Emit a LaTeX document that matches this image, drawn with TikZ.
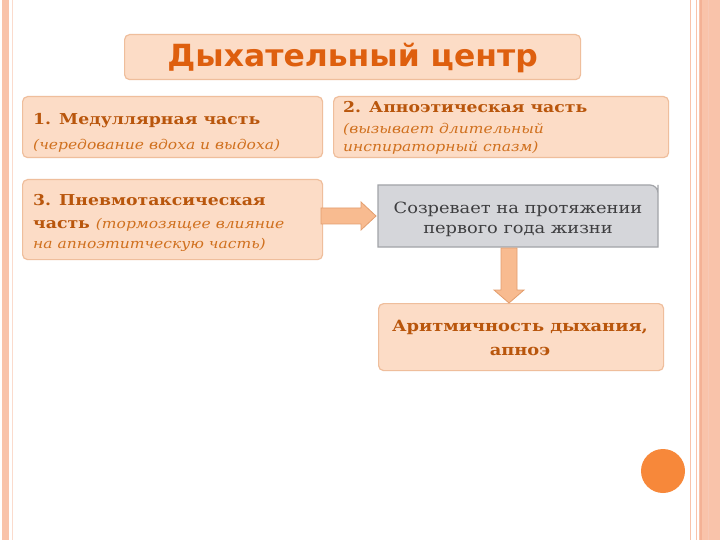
\documentclass[tikz,border=0pt]{standalone}
\usepackage{fontspec}
\setmainfont[FakeStretch=1.15]{DejaVu Serif}
\newfontfamily\titlefont[FakeStretch=1.03]{DejaVu Sans}
\usetikzlibrary{shapes.geometric}
\definecolor{boxfill}{HTML}{FCDCC6}
\definecolor{boxline}{HTML}{EFBE9C}
\definecolor{headtxt}{HTML}{B9560C}
\definecolor{subtxt}{HTML}{D0701E}
\definecolor{titletxt}{HTML}{DE5F0E}
\definecolor{grayfill}{HTML}{D5D6DA}
\definecolor{grayline}{HTML}{A2A4A8}
\definecolor{grtxt}{HTML}{3E3E40}
\definecolor{arrfill}{HTML}{F8BB90}
\definecolor{arrline}{HTML}{E39E6E}
\definecolor{stripe}{HTML}{F9C3AA}
\definecolor{stripedark}{HTML}{F4B195}
\definecolor{dotc}{HTML}{F7883A}
\tikzset{
  pbox/.style={draw=boxline, line width=1.2pt, fill=boxfill, rounded corners=5pt, anchor=north west, inner sep=0pt},
  head/.style={font=\bfseries\fontsize{15}{18}\selectfont, text=headtxt, anchor=base west, inner sep=0pt},
  sub/.style={font=\itshape\fontsize{13.5}{18}\selectfont, text=subtxt, anchor=base west, inner sep=0pt},
  arr/.style={draw=arrline, line width=0.8pt, fill=arrfill, line join=miter},
}
\begin{document}
\begin{tikzpicture}[x=1pt,y=-1pt]
\useasboundingbox (0,0) rectangle (720,540);
\fill[white] (0,0) rectangle (720,540);
% side decorations
\fill[stripe] (2,0) rectangle (9,540);
\draw[stripe!60, line width=0.6pt] (12,0) -- (12,540);
\draw[stripe, line width=1pt] (690,0) -- (690,540);
\draw[stripe, line width=1pt] (696,0) -- (696,540);
\fill[stripe] (699,0) rectangle (720,540);
\draw[stripedark, line width=1.5pt] (701,0) -- (701,540);
\draw[stripedark!70, line width=0.8pt] (708,0) -- (708,540);

% title
\node[pbox, minimum width=456pt, minimum height=45pt] (tbox) at (124,34) {};
\node[font=\titlefont\bfseries\fontsize{30.5}{32}\selectfont, text=titletxt, inner sep=0pt] (title) at ([yshift=-1pt]tbox.center) {Дыхательный центр};

% box 1
\node[pbox, minimum width=300pt, minimum height=61pt] (b1) at (22,96) {};
\node[head] (b1a) at (33,125) {1. Медуллярная часть};
\node[sub] (b1b) at (33,150) {(чередование вдоха и выдоха)};

% box 2
\node[pbox, minimum width=335pt, minimum height=61pt] (b2) at (333,96) {};
\node[head] (b2a) at (343,113) {2. Апноэтическая часть};
\node[sub] (b2b) at (343,134) {(вызывает длительный};
\node[sub] (b2c) at (343,152) {инспираторный спазм)};

% box 3
\node[pbox, minimum width=300pt, minimum height=80pt] (b3) at (22,179) {};
\node[head] (b3a) at (33,206) {3. Пневмотаксическая};
\node[head] (b3b) at (33,229) {часть \textnormal{\itshape\fontsize{13.5}{18}\selectfont\color{subtxt}(тормозящее влияние}};
\node[sub] (b3c) at (33,248) {на апноэтитческую часть)};

% gray box
\draw[draw=grayline, line width=1.2pt, fill=grayfill] (378,185) -- (650,185) [rounded corners=8pt] -- (658,185) -- (658,193) [sharp corners] -- (658,247) -- (378,247) -- cycle;
\node[font=\fontsize{15.5}{20}\selectfont, text=grtxt, align=center, inner sep=0pt] (gtxt) at (518,219) {Созревает на протяжении\\первого года жизни};

% box 4
\node[pbox, minimum width=285pt, minimum height=67pt] (b4) at (378,303) {};
\node[font=\bfseries\fontsize{15.5}{24}\selectfont, text=headtxt, align=center, inner sep=0pt] (b4t) at (520,338) {Аритмичность дыхания,\\апноэ};

% arrows
\draw[arr] (321,208) -- (361,208) -- (361,202) -- (376,216) -- (361,230) -- (361,224) -- (321,224) -- cycle;
\draw[arr] (501,248) -- (501,290) -- (494,290) -- (509,303) -- (524,290) -- (517,290) -- (517,248) -- cycle;

% dot
\fill[dotc] (663,471) circle (22pt);
\end{tikzpicture}
\end{document}
